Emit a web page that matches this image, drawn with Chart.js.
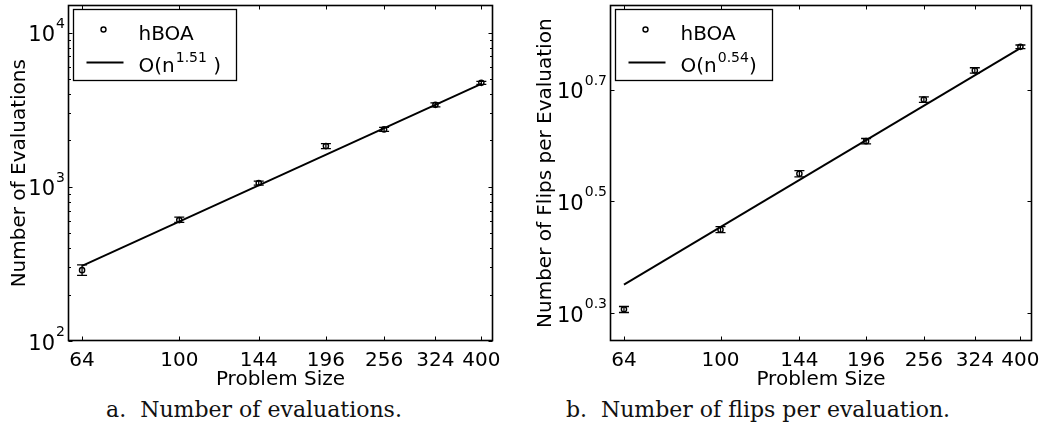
<!DOCTYPE html>
<html>
<head>
<meta charset="utf-8">
<script src="https://cdn.jsdelivr.net/npm/chart.js@4"></script>
<style>
  html, body { margin: 0; padding: 0; background: #fff; }
  body { width: 1049px; height: 426px; position: relative; overflow: hidden; }
  .panel { position: absolute; top: 0; }
  .caption { position: absolute; top: 396px; font-family: 'DejaVu Serif', serif; font-size: 22px; line-height: 28px; white-space: pre; text-align: center; color: #111; }
</style>
</head>
<body>
<div class="panel" style="left:0"><canvas id="evalChart" width="524" height="395"></canvas></div>
<div class="panel" style="left:524px"><canvas id="flipChart" width="525" height="395"></canvas></div>
<div class="caption" style="left:0;width:508px">a.  Number of evaluations.</div>
<div class="caption" style="left:524px;width:468px">b.  Number of flips per evaluation.</div>
<script>
// problem sizes (x axis, also the x tick labels)
const problemSizes = [64, 100, 144, 196, 256, 324, 400];

// panel a: number of evaluations
const evalMean = [288, 608, 1057, 1836, 2355, 3398, 4720];
const evalLow = [266, 588, 1026, 1769, 2287, 3300, 4615];
const evalHigh = [312, 636, 1089, 1906, 2425, 3500, 4830];
const evalFitX = [64, 400];
const evalFitY = [307, 4650];
const evalTickExp = ['2', '3', '4'];
const evalMinor = [200, 300, 400, 500, 600, 700, 800, 900, 2000, 3000, 4000, 5000, 6000, 7000, 8000, 9000];

// panel b: flips per evaluation
const flipsMean = [2.026, 2.814, 3.545, 4.055, 4.815, 5.428, 5.984];
const flipsLow = [2.00, 2.78, 3.50, 4.01, 4.76, 5.37, 5.94];
const flipsHigh = [2.05, 2.85, 3.59, 4.10, 4.87, 5.49, 6.03];
const flipsFitX = [64, 400];
const flipsFitY = [2.243, 5.952];
const flipsTickExp = ['0.3', '0.5', '0.7'];

const FONT = 'DejaVu Sans';

// draws the matlab style box, inward ticks, 10^k labels, error bars and legend
const matlabAxes = {
  id: 'matlabAxes',
  afterDatasetsDraw(chart, args, opts) {
    const { ctx, chartArea: a } = chart;
    const x = chart.scales.x, y = chart.scales.y;
    const L = Math.round(a.left) + 0.5, R = Math.round(a.right) - 0.5;
    const T = Math.round(a.top) + 0.5, B = Math.round(a.bottom) - 0.5;
    ctx.save();
    ctx.strokeStyle = '#000';
    ctx.fillStyle = '#000';

    // error bars
    ctx.lineWidth = 1.3;
    opts.low.forEach((lo, i) => {
      const px = x.getPixelForValue(problemSizes[i]);
      const y1 = y.getPixelForValue(lo);
      const y2 = y.getPixelForValue(opts.high[i]);
      ctx.beginPath();
      ctx.moveTo(px, y1); ctx.lineTo(px, y2);
      ctx.moveTo(px - 5, y1); ctx.lineTo(px + 5, y1);
      ctx.moveTo(px - 5, y2); ctx.lineTo(px + 5, y2);
      ctx.stroke();
    });

    // frame
    ctx.lineWidth = 1.6;
    ctx.strokeRect(L, T, R - L, B - T);

    // x ticks, top and bottom
    ctx.lineWidth = 1;
    ctx.beginPath();
    problemSizes.forEach(v => {
      const px = Math.round(x.getPixelForValue(v)) + 0.5;
      ctx.moveTo(px, B); ctx.lineTo(px, B - 4);
      ctx.moveTo(px, T); ctx.lineTo(px, T + 4);
    });
    // y ticks, left and right
    opts.yExp.forEach(e => {
      const py = Math.round(y.getPixelForValue(Math.pow(10, parseFloat(e)))) + 0.5;
      ctx.moveTo(L, py); ctx.lineTo(L + 4, py);
      ctx.moveTo(R, py); ctx.lineTo(R - 4, py);
    });
    (opts.minor || []).forEach(v => {
      const py = Math.round(y.getPixelForValue(v)) + 0.5;
      ctx.moveTo(L, py); ctx.lineTo(L + 2.5, py);
      ctx.moveTo(R, py); ctx.lineTo(R - 2.5, py);
    });
    ctx.stroke();

    // y tick labels 10^e
    opts.yExp.forEach(e => {
      const py = y.getPixelForValue(Math.pow(10, parseFloat(e)));
      ctx.font = '14px "' + FONT + '"';
      const ew = ctx.measureText(e).width;
      ctx.font = '21px "' + FONT + '"';
      const bw = ctx.measureText('10').width;
      const right = a.left - 3;
      ctx.textBaseline = 'alphabetic';
      ctx.textAlign = 'left';
      ctx.fillText('10', right - ew - bw - 1, py + 8.5);
      ctx.font = '14px "' + FONT + '"';
      ctx.fillText(e, right - ew, py - 5);
    });

    // legend box
    const bx = Math.round(a.left + 5) + 0.5, by = Math.round(a.top + 4) + 0.5;
    const bw = opts.legendWidth, bh = 71;
    ctx.fillStyle = '#fff';
    ctx.fillRect(bx, by, bw, bh);
    ctx.fillStyle = '#000';
    ctx.lineWidth = 1.3;
    ctx.strokeRect(bx, by, bw, bh);
    // marker
    ctx.lineWidth = 1.4;
    ctx.beginPath();
    ctx.arc(bx + 30, by + 20, 2.5, 0, Math.PI * 2);
    ctx.stroke();
    // line sample
    ctx.lineWidth = 1.8;
    ctx.beginPath();
    ctx.moveTo(bx + 13, by + 53); ctx.lineTo(bx + 50, by + 53);
    ctx.stroke();
    ctx.textAlign = 'left';
    ctx.textBaseline = 'alphabetic';
    ctx.font = '20px "' + FONT + '"';
    ctx.fillText(opts.legendLabels[0], bx + 65, by + 30);
    let tx = bx + 65;
    ctx.fillText('O(n', tx, by + 62);
    tx += ctx.measureText('O(n').width + 1;
    ctx.font = '14px "' + FONT + '"';
    ctx.fillText(opts.legendExp, tx, by + 52);
    tx += ctx.measureText(opts.legendExp).width;
    ctx.font = '20px "' + FONT + '"';
    ctx.fillText(opts.legendTail, tx, by + 62);

    ctx.restore();
  }
};

function makeChart(id, cfg) {
  const xHeight = 51;
  return new Chart(document.getElementById(id), {
    type: 'scatter',
    data: {
      datasets: [
        {
          label: 'fit',
          data: cfg.fitX.map((v, i) => ({ x: v, y: cfg.fitY[i] })),
          showLine: true,
          borderColor: '#000',
          borderWidth: 1.9,
          pointRadius: 0,
          fill: false
        },
        {
          label: 'hBOA',
          data: problemSizes.map((v, i) => ({ x: v, y: cfg.mean[i] })),
          showLine: false,
          pointRadius: 2.6,
          pointBorderWidth: 1.4,
          pointBorderColor: '#000',
          pointBackgroundColor: 'rgba(0,0,0,0)'
        }
      ]
    },
    options: {
      responsive: false,
      animation: false,
      events: [],
      layout: { padding: { left: cfg.padLeft, top: 5, right: cfg.padRight, bottom: 395 - 341 - xHeight } },
      plugins: {
        legend: { display: false },
        tooltip: { enabled: false },
        matlabAxes: {
          low: cfg.low,
          high: cfg.high,
          yExp: cfg.yExp,
          minor: cfg.minor,
          legendWidth: cfg.legendWidth,
          legendLabels: ['hBOA'],
          legendExp: cfg.legendExp,
          legendTail: cfg.legendTail
        }
      },
      scales: {
        x: {
          type: 'logarithmic',
          min: 60,
          max: 422,
          grid: { display: false, drawTicks: false },
          border: { display: false },
          afterBuildTicks: (s) => { s.ticks = problemSizes.map(v => ({ value: v })); },
          afterFit: (s) => { s.height = xHeight; },
          ticks: {
            autoSkip: false,
            maxRotation: 0,
            padding: 8,
            color: '#000',
            font: { family: FONT, size: 20 },
            callback: (v) => String(v)
          },
          title: {
            display: true,
            text: 'Problem Size',
            color: '#000',
            font: { family: FONT, size: 20 },
            padding: 0
          }
        },
        y: {
          type: 'logarithmic',
          min: cfg.yMin,
          max: cfg.yMax,
          grid: { display: false, drawTicks: false },
          border: { display: false },
          ticks: { display: false },
          afterFit: (s) => { s.width = cfg.axisWidth; },
          title: {
            display: true,
            text: cfg.yTitle,
            color: '#000',
            font: { family: FONT, size: 20 },
            padding: 0
          }
        }
      }
    },
    plugins: [matlabAxes]
  });
}

makeChart('evalChart', {
  mean: evalMean, low: evalLow, high: evalHigh,
  fitX: evalFitX, fitY: evalFitY,
  yExp: evalTickExp, minor: evalMinor,
  yMin: 100, yMax: 15000,
  yTitle: 'Number of Evaluations',
  padLeft: 8, axisWidth: 60, padRight: 31,
  legendWidth: 163, legendExp: '1.51', legendTail: ' )'
});

makeChart('flipChart', {
  mean: flipsMean, low: flipsLow, high: flipsHigh,
  fitX: flipsFitX, fitY: flipsFitY,
  yExp: flipsTickExp, minor: [],
  yMin: 1.778, yMax: 7.1,
  yTitle: 'Number of Flips per Evaluation',
  padLeft: 10, axisWidth: 76, padRight: 17,
  legendWidth: 157, legendExp: '0.54', legendTail: ')'
});
</script>
</body>
</html>
